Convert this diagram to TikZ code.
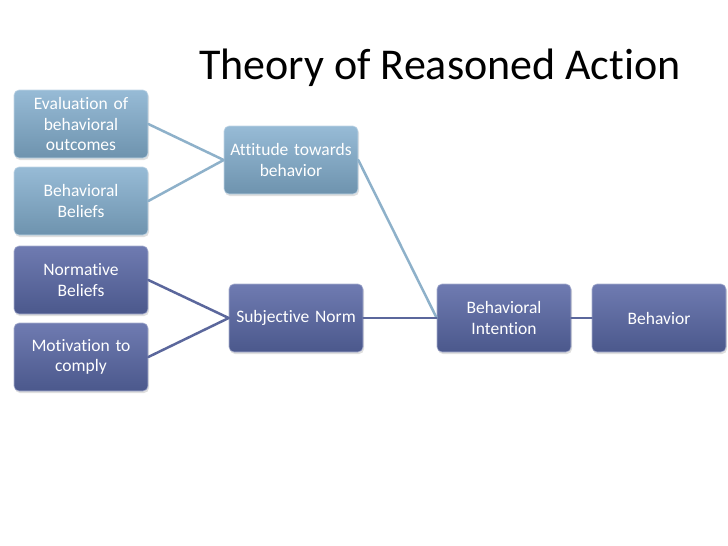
\documentclass[tikz,border=0pt]{standalone}
\usepackage{fontspec}
\setmainfont{Carlito}[Ligatures={NoCommon}]
\usetikzlibrary{shadows}
\definecolor{lighttop}{HTML}{97BBD6}
\definecolor{lightbot}{HTML}{6E93AE}
\definecolor{darktop}{HTML}{6F7BB1}
\definecolor{darkbot}{HTML}{4B588C}
\definecolor{lightline}{HTML}{8EB1CA}
\definecolor{darkline}{HTML}{5B679C}
\tikzset{
  every picture/.style={line join=round, line cap=round},
  box/.style={rounded corners=5pt, minimum width=134pt, minimum height=68pt,
    text width=130pt, inner xsep=2pt, align=center, text=white,
    font=\fontsize{17.5}{20.5}\selectfont,
    drop shadow={opacity=0.25, shadow xshift=1pt, shadow yshift=-2pt}},
  lightbox/.style={box, top color=lighttop, bottom color=lightbot, draw=lighttop!60!white, line width=0.6pt},
  darkbox/.style={box, top color=darktop, bottom color=darkbot, draw=darktop!60!white, line width=0.6pt},
  lightlink/.style={draw=lightline, line width=2.5pt},
  darklink/.style={draw=darkline, line width=2.5pt},
}
\begin{document}
\begin{tikzpicture}[x=1pt,y=-1pt]
\useasboundingbox[fill=white] (0,0) rectangle (728,546);
\node[font=\fontsize{44}{48}\selectfont] (title) at (440,68) {Theory of Reasoned Action};
% left column
\node[lightbox] (eval) at (81,124) {Evaluation of\\behavioral\\outcomes};
\node[lightbox] (beliefs) at (81,201) {Behavioral\\Beliefs};
\node[darkbox] (normative) at (81,280) {Normative\\Beliefs};
\node[darkbox] (motivation) at (81,357) {Motivation to\\comply};
% middle column
\node[lightbox] (attitude) at (291,160) {Attitude towards\\behavior};
\node[darkbox] (norm) at (296,318) {Subjective Norm};
% right side
\node[darkbox] (intention) at (504,318) {Behavioral\\Intention};
\node[darkbox] (behavior) at (659,318) {Behavior};
% links
\draw[lightlink] (eval.east) -- (attitude.west);
\draw[lightlink] (beliefs.east) -- (attitude.west);
\draw[darklink] (normative.east) -- (norm.west);
\draw[darklink] (motivation.east) -- (norm.west);
\draw[lightlink] (attitude.east) -- (intention.west);
\draw[darklink] (norm.east) -- (intention.west);
\draw[darklink] (intention.east) -- (behavior.west);
\end{tikzpicture}
\end{document}
